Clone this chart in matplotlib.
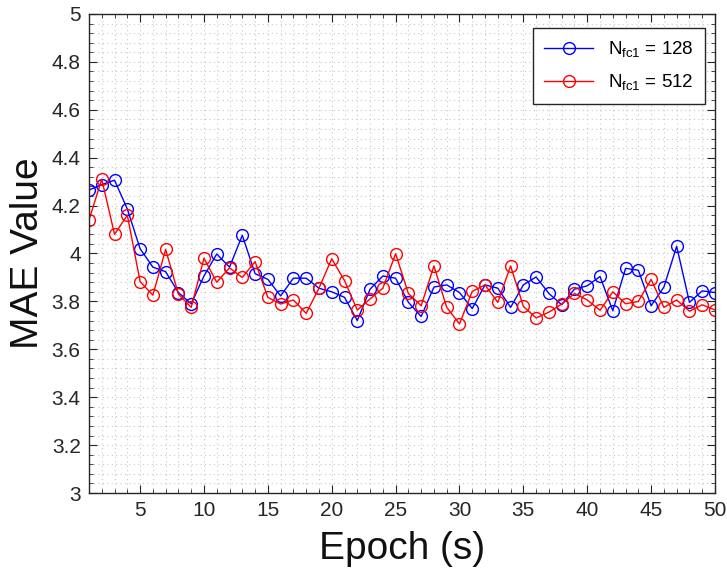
import numpy as np
import matplotlib
matplotlib.use('Agg')
import matplotlib.pyplot as plt
from matplotlib.ticker import MultipleLocator

plt.rcParams['font.family'] = ['Liberation Sans', 'DejaVu Sans']

# MAE per epoch for the two fc1 sizes
epochs = list(range(1, 51))
mae_128 = [4.265, 4.288, 4.306, 4.186, 4.020, 3.943, 3.924, 3.837, 3.790, 3.906,
           3.998, 3.943, 4.076, 3.916, 3.892, 3.823, 3.897, 3.897, 3.855, 3.840,
           3.817, 3.720, 3.851, 3.906, 3.897, 3.796, 3.737, 3.860, 3.869, 3.837,
           3.770, 3.869, 3.855, 3.775, 3.869, 3.902, 3.833, 3.786, 3.851, 3.865,
           3.904, 3.761, 3.938, 3.930, 3.782, 3.860, 4.030, 3.796, 3.844, 3.837]
mae_512 = [4.140, 4.310, 4.080, 4.160, 3.883, 3.826, 4.017, 3.830, 3.775, 3.980,
           3.880, 3.940, 3.900, 3.966, 3.817, 3.789, 3.806, 3.750, 3.855, 3.978,
           3.887, 3.764, 3.810, 3.855, 3.999, 3.833, 3.782, 3.948, 3.775, 3.706,
           3.842, 3.869, 3.796, 3.948, 3.779, 3.731, 3.755, 3.789, 3.833, 3.806,
           3.763, 3.840, 3.790, 3.800, 3.892, 3.775, 3.806, 3.759, 3.786, 3.764]
labels = ['$\\mathregular{N_{fc1}}$ = 128', '$\\mathregular{N_{fc1}}$ = 512']

fig = plt.figure(figsize=(7.27, 5.71), dpi=100)
ax = fig.add_axes([0.1224, 0.1366, 0.8611, 0.8389])

ax.plot(epochs, mae_128, '-o', color='b', lw=1.0, ms=8.5, mfc='none', mew=1.0, label=labels[0])
ax.plot(epochs, mae_512, '-o', color='r', lw=1.0, ms=8.5, mfc='none', mew=1.0, label=labels[1])

ax.set_xlim(1, 50)
ax.set_ylim(3, 5)
ax.set_xticks(np.arange(5, 51, 5))
ax.set_yticks(np.arange(3, 5.01, 0.2))
ax.set_yticklabels(['3', '3.2', '3.4', '3.6', '3.8', '4', '4.2', '4.4', '4.6', '4.8', '5'])
ax.xaxis.set_minor_locator(MultipleLocator(1))
ax.yaxis.set_minor_locator(MultipleLocator(0.04))

ax.grid(True, which='both', ls=(0, (1, 3)), color='#c8c8c8', lw=0.8)
ax.set_axisbelow(True)
ax.tick_params(which='both', direction='in', top=True, right=True, colors='#262626',
               labelsize=15)
ax.tick_params(which='major', length=6, pad=6)
ax.tick_params(which='minor', length=3)
for s in ax.spines.values():
    s.set_color('#262626')
    s.set_linewidth(1.0)

ax.set_xlabel('Epoch (s)', fontsize=28, color='#111111', labelpad=8)
ax.set_ylabel('MAE Value', fontsize=28, color='#111111', labelpad=4)

leg = ax.legend(loc='upper right', fontsize=13.5, fancybox=False, framealpha=1,
                edgecolor='#262626', borderpad=0.6, labelspacing=0.7,
                handlelength=2.6, borderaxespad=0, bbox_to_anchor=(0.984, 0.971))
leg.get_frame().set_linewidth(1.0)

fig.savefig('out.png', dpi=100)
